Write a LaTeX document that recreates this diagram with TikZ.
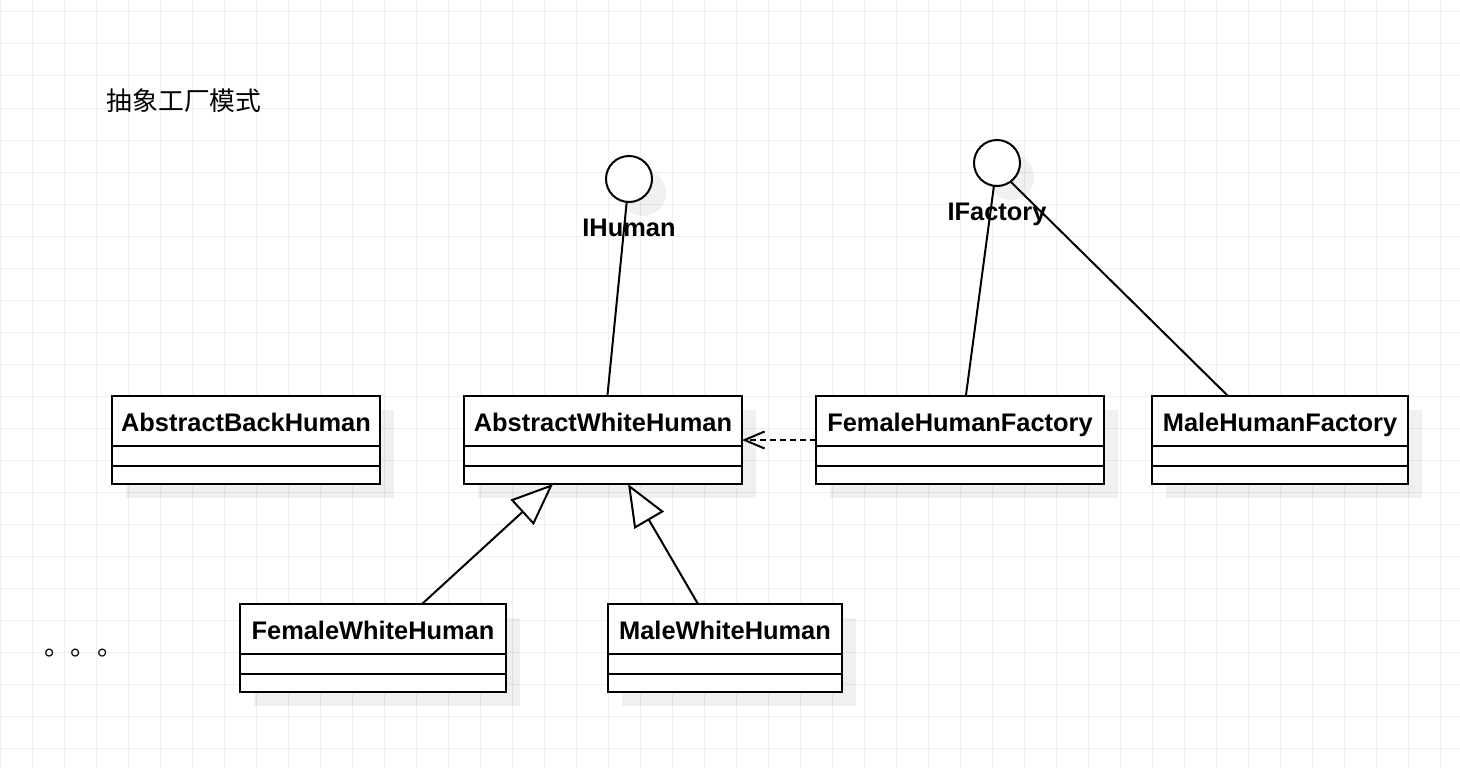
\documentclass[tikz,border=0pt]{standalone}
\usepackage{fontspec}
\setmainfont{Liberation Sans}
\newfontfamily\cjk{Noto Sans CJK SC}
\usetikzlibrary{arrows.meta,shadows,calc}
\definecolor{gridc}{RGB}{240,240,240}
\tikzset{
  shad/.style={drop shadow={shadow xshift=14pt,shadow yshift=-14pt,opacity=0.06,fill=black}},
  umlbox/.style={draw,fill=white,line width=2pt,minimum height=88,inner sep=0,outer sep=0,shad},
  cname/.style={font=\bfseries\fontsize{25.4}{30}\selectfont,inner sep=0,anchor=base},
  iface/.style={circle,draw,fill=white,line width=2pt,minimum size=46,inner sep=0,outer sep=0,shad},
  conn/.style={line width=2pt},
  dep/.style={line width=2pt,dash pattern=on 6pt off 4pt,-{Straight Barb[length=20pt,width=17pt,line width=2pt]}},
  inh/.style={line width=2pt,-{Triangle[length=42pt,width=34pt,fill=white,line width=2pt]}}
}
\newcommand\umlcls[5]{%
  \node[umlbox,minimum width=#4] (#1) at (#2,#3) {};
  \node[cname] (#1t) at ($(#1.north)+(0,35)$) {#5};
  \draw[line width=2pt] ($(#1.north west)+(0,50)$) -- ($(#1.north east)+(0,50)$);
  \draw[line width=2pt] ($(#1.north west)+(0,70)$) -- ($(#1.north east)+(0,70)$);
}
\begin{document}
\begin{tikzpicture}[x=1pt,y=-1pt]
\useasboundingbox (0,0) rectangle (1460,768);
\fill[white] (0,0) rectangle (1460,768);
\foreach \gx in {0,32,...,1440} \draw[gridc,line width=1pt] (\gx,0) -- (\gx,768);
\foreach \gy in {12,44,...,768} \draw[gridc,line width=1pt] (0,\gy) -- (1460,\gy);

\node[font=\cjk\fontsize{25.8}{30}\selectfont,inner sep=0] (title) at (184,100.5) {抽象工厂模式};
\node[font=\cjk\fontsize{26.5}{30}\selectfont,inner sep=0,anchor=west] (dots) at (44,653) {。。。};

\umlcls{abh}{246}{440}{268}{AbstractBackHuman}
\umlcls{awh}{603}{440}{278}{AbstractWhiteHuman}
\umlcls{fhf}{960}{440}{288}{FemaleHumanFactory}
\umlcls{mhf}{1280}{440}{256}{MaleHumanFactory}
\umlcls{fwh}{373}{648}{266}{FemaleWhiteHuman}
\umlcls{mwh}{725}{648}{234}{MaleWhiteHuman}

\node[iface] (ihum) at (629,179) {};
\node[iface] (ifac) at (997,163) {};
\node[cname] (ihumt) at (629,236) {IHuman};
\node[cname] (ifact) at (997,220) {IFactory};

\draw[conn] (ihum) -- (awh);
\draw[conn] (ifac) -- (fhf);
\draw[conn] (ifac.-54) -- ($(mhf.north west)+(76,0)$);
\draw[dep] (fhf.west) -- (awh.east);
\draw[inh] ($(fwh.north west)+(182,0)$) -- ($(awh.south west)+(89,0)$);
\draw[inh] ($(mwh.north west)+(90,0)$) -- ($(awh.south west)+(164,0)$);
\end{tikzpicture}
\end{document}
